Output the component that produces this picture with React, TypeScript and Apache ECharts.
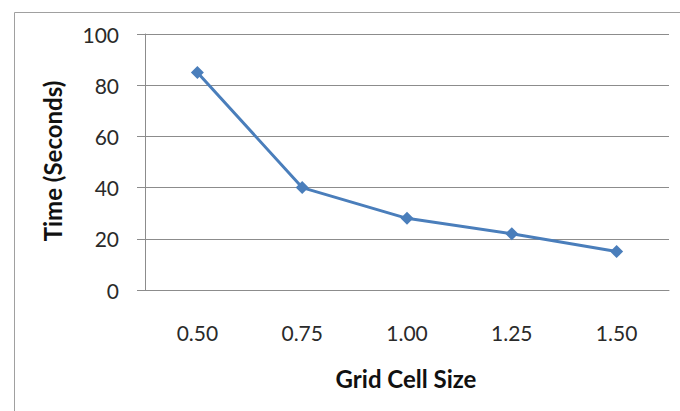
import React, { useEffect, useRef } from "react";
import * as echarts from "echarts";

const categories = ["0.50", "0.75", "1.00", "1.25", "1.50"];
const times = [85, 40, 28, 22, 15];
const yAxisTitle = "Time (Seconds)";
const xAxisTitle = "Grid Cell Size";

export default function App() {
  const ref = useRef<HTMLDivElement>(null);
  useEffect(() => {
    if (!ref.current) return;
    const chart = echarts.init(ref.current, null, { renderer: "svg" });
    const font = "Lato, 'Open Sans', sans-serif";
    chart.setOption({
      animation: false,
      backgroundColor: "#ffffff",
      grid: { left: 145, right: 11, top: 34, bottom: 121, containLabel: false },
      xAxis: {
        type: "category",
        data: categories,
        boundaryGap: true,
        axisLine: { show: true, lineStyle: { color: "#8c8c8c", width: 1 } },
        axisTick: { show: false },
        axisLabel: { fontSize: 21, color: "#2a2a2a", fontFamily: font, margin: 32 },
        splitLine: { show: false },
      },
      yAxis: {
        type: "value",
        min: 0,
        max: 100,
        interval: 20,
        axisLine: { show: true, lineStyle: { color: "#8c8c8c", width: 1 } },
        axisTick: { show: true, length: 8, lineStyle: { color: "#8c8c8c" } },
        axisLabel: { fontSize: 21, color: "#2a2a2a", fontFamily: font, margin: 26 },
        splitLine: { show: true, lineStyle: { color: "#8c8c8c", width: 1 } },
      },
      series: [
        {
          type: "line",
          data: times,
          symbol: "diamond",
          symbolSize: 13,
          lineStyle: { color: "#4a7ebb", width: 3 },
          itemStyle: { color: "#4a7ebb" },
        },
      ],
      graphic: [
        {
          type: "rect",
          left: 12,
          top: 10,
          shape: { x: 0, y: 0, width: 720, height: 460 },
          style: { fill: "none", stroke: "#a0a0a0", lineWidth: 1 },
          silent: true,
          z: -10,
        },
        {
          type: "text",
          x: 52,
          y: 161,
          rotation: Math.PI / 2,
          style: {
            text: yAxisTitle,
            font: `bold 24px ${font}`,
            fill: "#111111",
            align: "center",
            verticalAlign: "middle",
          },
        },
        {
          type: "text",
          x: 406,
          y: 378,
          style: {
            text: xAxisTitle,
            font: `bold 24px ${font}`,
            fill: "#111111",
            align: "center",
            verticalAlign: "middle",
          },
        },
      ],
    });
    return () => chart.dispose();
  }, []);
  return <div ref={ref} style={{ width: 680, height: 411, position: "absolute", left: 0, top: 0 }} />;
}
